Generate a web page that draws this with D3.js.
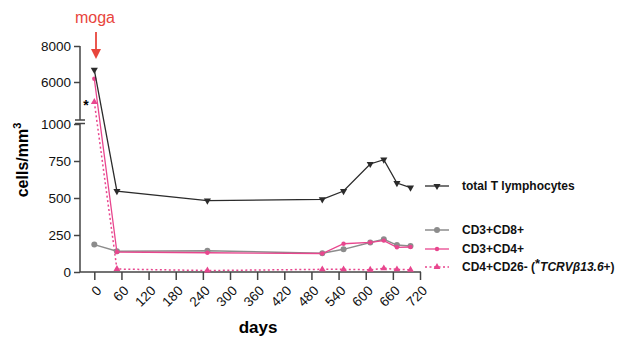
<!DOCTYPE html>
<html>
<head>
<meta charset="utf-8">
<script src="https://cdn.jsdelivr.net/npm/d3@7"></script>
<style>
  body { margin: 0; background: #fff; }
  text { font-family: "Liberation Sans", Arial, sans-serif; }
</style>
</head>
<body>
<svg id="chart" width="623" height="338"></svg>
<script>
// data
const days = [0, 50, 250, 504, 551, 610, 640, 669, 699];
const totalT = [6680, 547, 482, 491, 547, 730, 759, 601, 570];
const cd8 = [185, 140, 144, 126, 153, 200, 221, 182, 176];
const cd4 = [6180, 135, 130, 125, 191, 200, 212, 167, 169];
const cd26 = [4890, 20, 10, 18, 18, 15, 25, 18, 15];
const xTicks = d3.range(0, 721, 60);
const lowTicks = [0, 250, 500, 750, 1000];
const highTicks = [6000, 8000];
const seriesNames = ['total T lymphocytes', 'CD3+CD8+', 'CD3+CD4+', 'CD4+CD26-'];

const pink = '#e8468e', gray = '#8c8c8c', dark = '#2b2b2b', red = '#e8453c';

const svg = d3.select('#chart');

const x = d3.scaleLinear().domain([0, 720]).range([94.3, 420]);
const yLow = d3.scaleLinear().domain([0, 1000]).range([272, 124]);
const yHigh = d3.scaleLinear().domain([4000, 8000]).range([118, 46]);
function y(v) { return v <= 1000 ? yLow(v) : yHigh(v); }

const axisX0 = 80;

// y axis, lower part
const gLow = svg.append('g').attr('transform', 'translate(' + axisX0 + ',0)')
  .call(d3.axisLeft(yLow).tickValues(lowTicks).tickSize(6).tickSizeOuter(0).tickPadding(3).tickFormat(d3.format('d')));
// y axis, upper part
const gHigh = svg.append('g').attr('transform', 'translate(' + axisX0 + ',0)')
  .call(d3.axisLeft(yHigh).tickValues(highTicks).tickSize(6).tickSizeOuter(0).tickPadding(3).tickFormat(d3.format('d')));
gHigh.select('.domain').attr('d', 'M0,46V120');
gLow.select('.domain').attr('d', 'M0,123.5V272');
[gLow, gHigh].forEach(g => {
  g.selectAll('.domain, line').attr('stroke', '#444').attr('stroke-width', 1.5);
  g.selectAll('text').attr('font-size', 13.5).attr('fill', '#111')
    .style('font-family', '"Liberation Sans", Arial, sans-serif');
});
// break marks
svg.append('line').attr('x1', axisX0 - 5).attr('x2', axisX0 + 5).attr('y1', 120).attr('y2', 120)
  .attr('stroke', '#444').attr('stroke-width', 1.5);
svg.append('line').attr('x1', axisX0 - 5).attr('x2', axisX0 + 5).attr('y1', 123.5).attr('y2', 123.5)
  .attr('stroke', '#444').attr('stroke-width', 1.5);

// x axis
const gx = svg.append('g').attr('transform', 'translate(0,272)')
  .call(d3.axisBottom(x).tickValues(xTicks).tickSize(8).tickSizeOuter(0).tickFormat(d3.format('d')));
gx.select('.domain').attr('d', 'M' + axisX0 + ',0H421');
gx.selectAll('.domain, line').attr('stroke', '#444').attr('stroke-width', 1.5);
gx.selectAll('text')
  .attr('font-size', 13.5).attr('fill', '#111')
  .style('font-family', '"Liberation Sans", Arial, sans-serif')
  .attr('text-anchor', 'end')
  .attr('dy', null)
  .attr('transform', 'translate(4,16) rotate(-45)')
  .attr('x', 0).attr('y', 5);

// axis titles
svg.append('text').attr('x', 258).attr('y', 333).attr('text-anchor', 'middle')
  .attr('font-size', 17).attr('font-weight', 'bold').text('days');
const yl = svg.append('text').attr('transform', 'translate(28,160) rotate(-90)')
  .attr('text-anchor', 'middle').attr('font-size', 16).attr('font-weight', 'bold');
yl.append('tspan').text('cells/mm');
yl.append('tspan').attr('dy', -7).attr('font-size', 11).text('3');

// series
const pts = arr => days.map((d, i) => [d, arr[i]]);
const line = d3.line().x(d => x(d[0])).y(d => y(d[1]));

const series = [
  { data: pts(totalT), color: dark, dash: null, marker: 'tdown', width: 1.3 },
  { data: pts(cd8), color: gray, dash: null, marker: 'circle', width: 1.5 },
  { data: pts(cd4), color: pink, dash: null, marker: 'dot', width: 1.3 },
  { data: pts(cd26), color: pink, dash: '2,2.5', marker: 'tup', width: 1.5 }
];

function drawMarker(g, type, cx, cy, color) {
  if (type === 'circle') {
    g.append('circle').attr('cx', cx).attr('cy', cy).attr('r', 3).attr('fill', color);
  } else if (type === 'dot') {
    g.append('circle').attr('cx', cx).attr('cy', cy).attr('r', 2.2).attr('fill', color);
  } else if (type === 'tdown') {
    g.append('path').attr('d', d3.symbol(d3.symbolTriangle, 22)()).attr('transform', 'translate(' + cx + ',' + cy + ') rotate(180)').attr('fill', color);
  } else {
    g.append('path').attr('d', d3.symbol(d3.symbolTriangle, 20)()).attr('transform', 'translate(' + cx + ',' + cy + ')').attr('fill', color);
  }
}

// draw in back-to-front order
[3, 1, 2, 0].forEach(k => {
  const s = series[k];
  const g = svg.append('g');
  g.append('path').attr('d', line(s.data)).attr('fill', 'none')
    .attr('stroke', s.color).attr('stroke-width', s.width)
    .attr('stroke-dasharray', s.dash);
  s.data.forEach(d => drawMarker(g, s.marker, x(d[0]), y(d[1]), s.color));
});

// star next to the CD26- day 0 point
svg.append('text').attr('x', 86).attr('y', 110).attr('text-anchor', 'middle')
  .attr('font-size', 14).attr('font-weight', 'bold').text('*');

// moga annotation
svg.append('text').attr('x', 95).attr('y', 23).attr('text-anchor', 'middle')
  .attr('font-size', 16).attr('fill', red).text('moga');
svg.append('line').attr('x1', 96).attr('x2', 96).attr('y1', 32).attr('y2', 50)
  .attr('stroke', red).attr('stroke-width', 1.8);
svg.append('path').attr('d', 'M91,49L101,49L96,59Z').attr('fill', red);

// legend
const legY = [186, 230, 249, 267];
series.forEach((s, i) => {
  const g = svg.append('g');
  g.append('line').attr('x1', 425).attr('x2', 449).attr('y1', legY[i]).attr('y2', legY[i])
    .attr('stroke', s.color).attr('stroke-width', s.width).attr('stroke-dasharray', s.dash);
  drawMarker(g, s.marker, 437, legY[i], s.color);
  const t = g.append('text').attr('x', 462).attr('y', legY[i] + 4)
    .attr('font-size', 12).attr('font-weight', 'bold').attr('fill', '#111');
  t.append('tspan').text(seriesNames[i]);
  if (i === 3) {
    t.append('tspan').text(' (');
    t.append('tspan').attr('dy', -3).attr('font-size', 13).text('*');
    t.append('tspan').attr('dy', 3).attr('font-style', 'italic').text('TCRVβ13.6');
    t.append('tspan').text('+)');
  }
});
</script>
</body>
</html>
